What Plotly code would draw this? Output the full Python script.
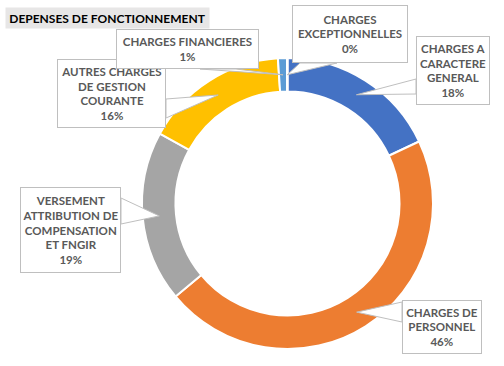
import math
import plotly.graph_objects as go

# ---------------- data ----------------
categories = [
    "CHARGES A CARACTERE GENERAL",
    "CHARGES DE PERSONNEL",
    "VERSEMENT ATTRIBUTION DE COMPENSATION ET FNGIR",
    "AUTRES CHARGES DE GESTION COURANTE",
    "CHARGES FINANCIERES",
    "CHARGES EXCEPTIONNELLES",
]
values = [18, 46, 19, 16, 1, 0.05]
label_lines = [
    ["CHARGES A", "CARACTERE", "GENERAL"],
    ["CHARGES DE", "PERSONNEL"],
    ["VERSEMENT", "ATTRIBUTION DE", "COMPENSATION", "ET FNGIR"],
    ["AUTRES CHARGES", "DE GESTION", "COURANTE"],
    ["CHARGES FINANCIERES"],
    ["CHARGES", "EXCEPTIONNELLES"],
]
title_text = "DEPENSES DE FONCTIONNEMENT"

# ---------------- style / layout ----------------
colors = ["#4472C4", "#ED7D31", "#A5A5A5", "#FFC000", "#5B9BD5", "#70AD47"]
W, H = 504, 366
CX, CY, R = 287.5, 203.5, 145.5
HOLE = 0.77
FONT = "Lato"
LABEL_COLOR = "#595959"
BOX_LINE = "#BFBFBF"

# callout boxes (left, top, right, bottom) in pixels
boxes = [
    (416, 36, 490, 105),
    (402, 300, 482, 354),
    (20, 187, 121, 273),
    (57, 59, 166, 128),
    (116, 29, 259, 69),
    (292, 5, 408, 63),
]
# base points of the callout tails on the box edges (pixels)
tail_bases = [
    ((416, 79), (416, 94)),
    ((402, 302), (402, 322)),
    ((121, 198), (121, 224)),
    ((166, 99), (166, 118)),
    ((200, 69), (236, 69)),
    ((300, 63), (337, 63)),
]
draw_order = [0, 1, 2, 3, 4, 5]


def px(x):
    return x / W


def py(y):
    return 1 - y / H


total = sum(values)
pcts = [round(v / total * 100) for v in values]

fig = go.Figure()
fig.add_trace(go.Pie(
    labels=categories,
    values=values,
    hole=HOLE,
    sort=False,
    direction="clockwise",
    rotation=0,
    marker=dict(colors=colors, line=dict(color="white", width=2)),
    textinfo="none",
    hoverinfo="label+percent",
    showlegend=False,
    domain=dict(x=[px(CX - R), px(CX + R)], y=[py(CY + R), py(CY - R)]),
))

r_mid = (R + R * HOLE) / 2
shapes = []
cum = 0.0
tips = []
for v in values:
    a = (cum + v / 2) / total * 2 * math.pi
    tips.append((CX + r_mid * math.sin(a), CY - r_mid * math.cos(a)))
    cum += v

for i in draw_order:
    (b1x, b1y), (b2x, b2y) = tail_bases[i]
    tx, ty = tips[i]
    path = f"M {px(b1x)},{py(b1y)} L {px(tx)},{py(ty)} L {px(b2x)},{py(b2y)} Z"
    shapes.append(dict(type="path", path=path, xref="paper", yref="paper",
                       fillcolor="white", line=dict(color=BOX_LINE, width=1),
                       layer="above"))

annotations = []
for i in draw_order:
    l, t, r, b = boxes[i]
    text = "<b>" + "<br>".join(label_lines[i] + [f"{pcts[i]}%"]) + "</b>"
    annotations.append(dict(
        x=px(l), y=py(t), xref="paper", yref="paper",
        xanchor="left", yanchor="top",
        text=text, showarrow=False,
        width=r - l - 2, height=b - t - 2,
        align="center", valign="middle",
        bgcolor="white", bordercolor=BOX_LINE, borderwidth=1, borderpad=0,
        font=dict(family=FONT, size=11.5, color=LABEL_COLOR),
    ))

annotations.append(dict(
    x=px(5), y=py(7), xref="paper", yref="paper",
    xanchor="left", yanchor="top",
    text=f"<b>{title_text}</b>", showarrow=False,
    width=203, height=20, align="center", valign="middle",
    bgcolor="#E7E6E6", borderpad=0,
    font=dict(family=FONT, size=12, color="black"),
))

fig.update_layout(
    width=W, height=H,
    margin=dict(l=0, r=0, t=0, b=0),
    paper_bgcolor="white", plot_bgcolor="white",
    shapes=shapes, annotations=annotations,
)

fig.write_html("out.html", config={"displayModeBar": False},
               post_script="document.body.style.margin='0px';")
